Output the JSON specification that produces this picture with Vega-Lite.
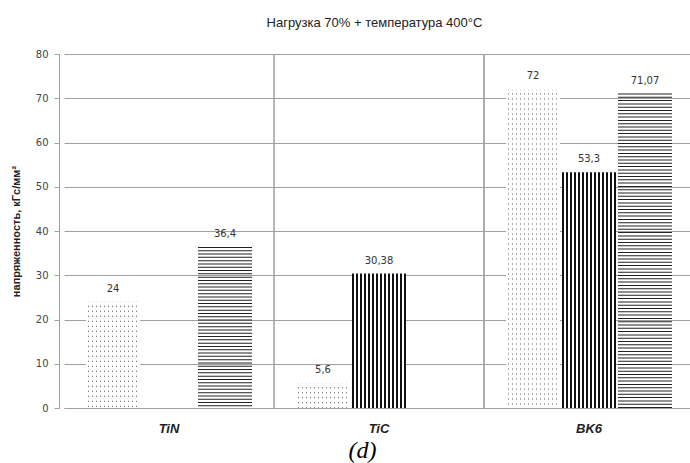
{
  "$schema": "https://vega.github.io/schema/vega-lite/v6.json",
  "autosize": "none",
  "padding": {"left": 59, "top": 54, "right": 0, "bottom": 55},
  "width": 631,
  "height": 354,
  "background": "white",
  "title": {
    "text": "Нагрузка 70% + температура 400°C",
    "font": "Liberation Sans",
    "fontSize": 13,
    "fontWeight": "normal",
    "color": "#222",
    "anchor": "middle",
    "baseline": "alphabetic",
    "offset": 9
  },
  "config": {
    "view": {"stroke": null},
    "locale": {"number": {"decimal": ",", "thousands": " ", "grouping": [3], "currency": ["", ""]}}
  },
  "data": {
    "values": [
      {"cat": "TiN", "s": "a", "v": 24},
      {"cat": "TiN", "s": "c", "v": 36.4},
      {"cat": "TiC", "s": "a", "v": 5.6},
      {"cat": "TiC", "s": "b", "v": 30.38},
      {"cat": "BK6", "s": "a", "v": 72},
      {"cat": "BK6", "s": "b", "v": 53.3},
      {"cat": "BK6", "s": "c", "v": 71.07}
    ]
  },
  "encoding": {
    "x": {
      "field": "cat", "type": "nominal", "sort": ["TiN", "TiC", "BK6"],
      "scale": {"range": [5, 635], "paddingInner": 0, "paddingOuter": 0},
      "axis": {
        "title": "(d)", "titleFont": "Liberation Serif", "titleFontStyle": "italic", "titleFontWeight": "normal",
        "titleFontSize": 24, "titleColor": "#000", "titleX": 303, "titleY": 49, "titleBaseline": "alphabetic",
        "labelFont": "Liberation Sans", "labelFontSize": 13, "labelFontWeight": "bold", "labelFontStyle": "italic",
        "labelColor": "#222", "labelPadding": 14, "labelAngle": 0, "ticks": false, "grid": false,
        "domainColor": "#a0a0a0"
      }
    },
    "y": {
      "field": "v", "type": "quantitative",
      "scale": {"domain": [0, 80], "nice": false},
      "axis": {
        "title": "напряженность, кГс/мм²", "titleFont": "Liberation Sans", "titleFontSize": 11, "titleFontWeight": "bold",
        "titleColor": "#222", "titlePadding": 14,
        "values": [0, 10, 20, 30, 40, 50, 60, 70, 80],
        "labelFont": "DejaVu Sans", "labelFontSize": 10, "labelColor": "#444", "labelPadding": 6,
        "tickSize": 5, "tickColor": "#a0a0a0", "domainColor": "#a0a0a0", "gridColor": "#a0a0a0", "grid": true
      }
    }
  },
  "layer": [
    {
      "transform": [{"filter": "datum.cat !== 'TiN'"}],
      "mark": {"type": "rule", "color": "#a0a0a0", "strokeWidth": 1},
      "encoding": {
        "x": {"field": "cat", "type": "nominal", "sort": ["TiN", "TiC", "BK6"], "bandPosition": 0},
        "y": null
      }
    },
    {
      "transform": [{"filter": "datum.s === 'a'"}],
      "mark": {
        "type": "bar", "width": 54,
        "fill": {
          "gradient": "linear", "x1": 0, "y1": 0, "x2": 1, "y2": 0,
          "stops": [
            {"offset": 0, "color": "#fff"}, {"offset": 0.037, "color": "#fff"}, {"offset": 0.037, "color": "#555"}, {"offset": 0.0556, "color": "#555"}, {"offset": 0.0556, "color": "#fff"},
            {"offset": 0.1111, "color": "#fff"}, {"offset": 0.1111, "color": "#555"}, {"offset": 0.1296, "color": "#555"}, {"offset": 0.1296, "color": "#fff"},
            {"offset": 0.1852, "color": "#fff"}, {"offset": 0.1852, "color": "#555"}, {"offset": 0.2037, "color": "#555"}, {"offset": 0.2037, "color": "#fff"},
            {"offset": 0.2593, "color": "#fff"}, {"offset": 0.2593, "color": "#555"}, {"offset": 0.2778, "color": "#555"}, {"offset": 0.2778, "color": "#fff"},
            {"offset": 0.3333, "color": "#fff"}, {"offset": 0.3333, "color": "#555"}, {"offset": 0.3519, "color": "#555"}, {"offset": 0.3519, "color": "#fff"},
            {"offset": 0.4074, "color": "#fff"}, {"offset": 0.4074, "color": "#555"}, {"offset": 0.4259, "color": "#555"}, {"offset": 0.4259, "color": "#fff"},
            {"offset": 0.4815, "color": "#fff"}, {"offset": 0.4815, "color": "#555"}, {"offset": 0.5, "color": "#555"}, {"offset": 0.5, "color": "#fff"},
            {"offset": 0.5556, "color": "#fff"}, {"offset": 0.5556, "color": "#555"}, {"offset": 0.5741, "color": "#555"}, {"offset": 0.5741, "color": "#fff"},
            {"offset": 0.6296, "color": "#fff"}, {"offset": 0.6296, "color": "#555"}, {"offset": 0.6481, "color": "#555"}, {"offset": 0.6481, "color": "#fff"},
            {"offset": 0.7037, "color": "#fff"}, {"offset": 0.7037, "color": "#555"}, {"offset": 0.7222, "color": "#555"}, {"offset": 0.7222, "color": "#fff"},
            {"offset": 0.7778, "color": "#fff"}, {"offset": 0.7778, "color": "#555"}, {"offset": 0.7963, "color": "#555"}, {"offset": 0.7963, "color": "#fff"},
            {"offset": 0.8519, "color": "#fff"}, {"offset": 0.8519, "color": "#555"}, {"offset": 0.8704, "color": "#555"}, {"offset": 0.8704, "color": "#fff"},
            {"offset": 0.9259, "color": "#fff"}, {"offset": 0.9259, "color": "#555"}, {"offset": 0.9444, "color": "#555"}, {"offset": 0.9444, "color": "#fff"},
            {"offset": 1, "color": "#fff"}
          ]
        }
      },
      "encoding": {
        "xOffset": {"field": "s", "type": "nominal", "scale": {"domain": ["a", "b", "c"], "paddingOuter": 0.375, "paddingInner": 0}}
      }
    },
    {
      "transform": [{"filter": "datum.s === 'a'"}],
      "mark": {"type": "rule", "color": "#fff", "strokeWidth": 54, "strokeDash": [4, 1], "strokeCap": "butt"},
      "encoding": {
        "xOffset": {"field": "s", "type": "nominal", "scale": {"domain": ["a", "b", "c"], "paddingOuter": 0.375, "paddingInner": 0}},
        "y2": {"datum": 0}
      }
    },
    {
      "transform": [{"filter": "datum.s === 'b'"}],
      "mark": {
        "type": "bar", "width": 54,
        "fill": {
          "gradient": "linear", "x1": 0, "y1": 0, "x2": 1, "y2": 0,
          "stops": [
            {"offset": 0, "color": "#111"}, {"offset": 0.037, "color": "#111"}, {"offset": 0.037, "color": "#fff"}, {"offset": 0.0741, "color": "#fff"},
            {"offset": 0.0741, "color": "#111"}, {"offset": 0.1111, "color": "#111"}, {"offset": 0.1111, "color": "#fff"}, {"offset": 0.1481, "color": "#fff"},
            {"offset": 0.1481, "color": "#111"}, {"offset": 0.1852, "color": "#111"}, {"offset": 0.1852, "color": "#fff"}, {"offset": 0.2222, "color": "#fff"},
            {"offset": 0.2222, "color": "#111"}, {"offset": 0.2593, "color": "#111"}, {"offset": 0.2593, "color": "#fff"}, {"offset": 0.2963, "color": "#fff"},
            {"offset": 0.2963, "color": "#111"}, {"offset": 0.3333, "color": "#111"}, {"offset": 0.3333, "color": "#fff"}, {"offset": 0.3704, "color": "#fff"},
            {"offset": 0.3704, "color": "#111"}, {"offset": 0.4074, "color": "#111"}, {"offset": 0.4074, "color": "#fff"}, {"offset": 0.4444, "color": "#fff"},
            {"offset": 0.4444, "color": "#111"}, {"offset": 0.4815, "color": "#111"}, {"offset": 0.4815, "color": "#fff"}, {"offset": 0.5185, "color": "#fff"},
            {"offset": 0.5185, "color": "#111"}, {"offset": 0.5556, "color": "#111"}, {"offset": 0.5556, "color": "#fff"}, {"offset": 0.5926, "color": "#fff"},
            {"offset": 0.5926, "color": "#111"}, {"offset": 0.6296, "color": "#111"}, {"offset": 0.6296, "color": "#fff"}, {"offset": 0.6667, "color": "#fff"},
            {"offset": 0.6667, "color": "#111"}, {"offset": 0.7037, "color": "#111"}, {"offset": 0.7037, "color": "#fff"}, {"offset": 0.7407, "color": "#fff"},
            {"offset": 0.7407, "color": "#111"}, {"offset": 0.7778, "color": "#111"}, {"offset": 0.7778, "color": "#fff"}, {"offset": 0.8148, "color": "#fff"},
            {"offset": 0.8148, "color": "#111"}, {"offset": 0.8519, "color": "#111"}, {"offset": 0.8519, "color": "#fff"}, {"offset": 0.8889, "color": "#fff"},
            {"offset": 0.8889, "color": "#111"}, {"offset": 0.9259, "color": "#111"}, {"offset": 0.9259, "color": "#fff"}, {"offset": 0.963, "color": "#fff"},
            {"offset": 0.963, "color": "#111"}, {"offset": 1, "color": "#111"}
          ]
        }
      },
      "encoding": {
        "xOffset": {"field": "s", "type": "nominal", "scale": {"domain": ["a", "b", "c"], "paddingOuter": 0.375, "paddingInner": 0}}
      }
    },
    {
      "transform": [{"filter": "datum.s === 'c'"}],
      "mark": {"type": "rule", "color": "#222", "strokeWidth": 54, "strokeDash": [1, 2.3], "strokeCap": "butt"},
      "encoding": {
        "xOffset": {"field": "s", "type": "nominal", "scale": {"domain": ["a", "b", "c"], "paddingOuter": 0.375, "paddingInner": 0}},
        "y2": {"datum": 0}
      }
    },
    {
      "mark": {"type": "text", "font": "DejaVu Sans", "fontSize": 10, "color": "#333", "baseline": "bottom", "dy": -8},
      "encoding": {
        "xOffset": {"field": "s", "type": "nominal", "scale": {"domain": ["a", "b", "c"], "paddingOuter": 0.375, "paddingInner": 0}},
        "text": {"field": "v", "type": "quantitative", "format": ".4~r"}
      }
    }
  ]
}
